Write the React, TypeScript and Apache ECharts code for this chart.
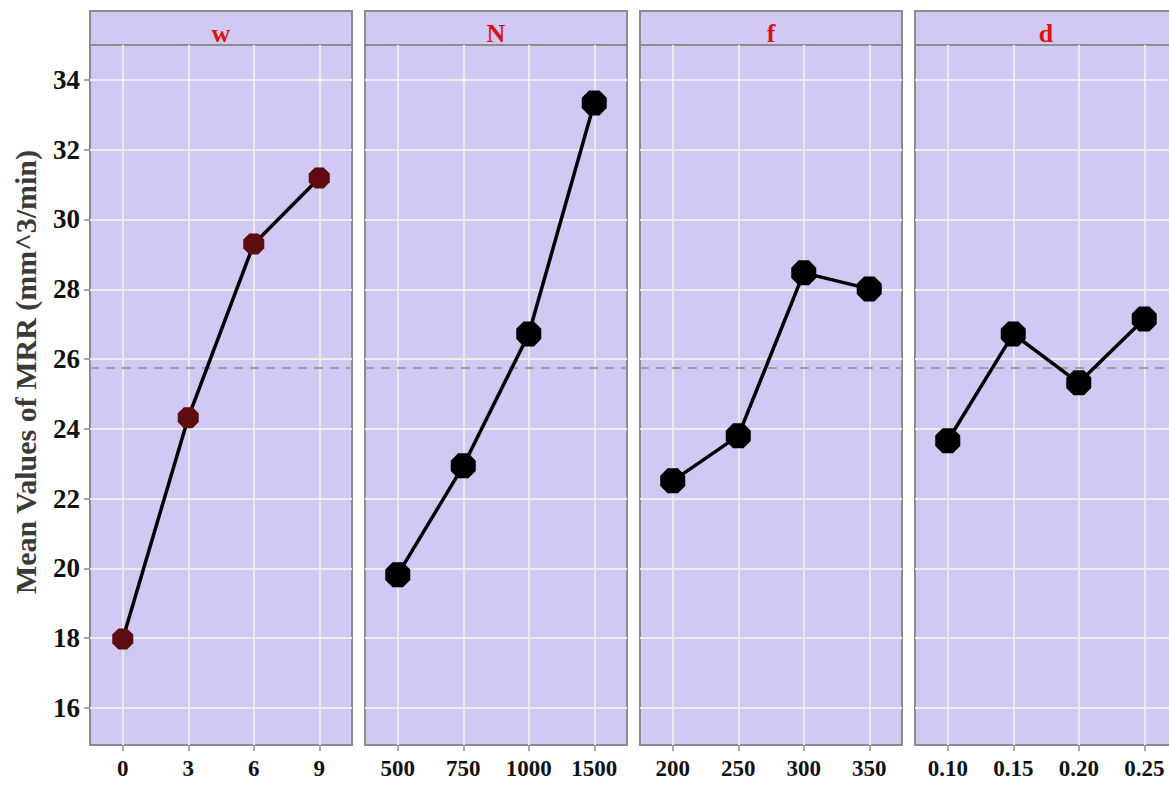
import React, { useEffect, useRef } from "react";
import * as echarts from "echarts";

const factorNames = ["w", "N", "f", "d"];
const wLevels = ["0", "3", "6", "9"];
const wMeans = [17.98, 24.32, 29.3, 31.19];
const NLevels = ["500", "750", "1000", "1500"];
const NMeans = [19.82, 22.94, 26.72, 33.34];
const fLevels = ["200", "250", "300", "350"];
const fMeans = [22.51, 23.8, 28.47, 28.01];
const dLevels = ["0.10", "0.15", "0.20", "0.25"];
const dMeans = [23.66, 26.72, 25.32, 27.15];
const grandMean = 25.75;
const yTicks = [16, 18, 20, 22, 24, 26, 28, 30, 32, 34];
const yMin = 14.94;
const yMax = 35.0;

const levelsList = [wLevels, NLevels, fLevels, dLevels];
const meansList = [wMeans, NMeans, fMeans, dMeans];

const BG = "#D1C9F4";
const BORDER = "#8c8c8c";
const FONT = "'Liberation Serif', 'Times New Roman', serif";
const OCTAGON = "path://M29.3 0H70.7L100 29.3V70.7L70.7 100H29.3L0 70.7V29.3Z";

const PANEL_LEFT = 90;
const PANEL_STEP = 275;
const PANEL_W = 262;
const PANEL_TOP = 45;
const PANEL_H = 700;
const STRIP_TOP = 11;

export default function App() {
  const ref = useRef<HTMLDivElement>(null);
  useEffect(() => {
    if (!ref.current) return;
    const chart = echarts.init(ref.current, undefined, { renderer: "svg" });
    const grids: any[] = [];
    const xAxes: any[] = [];
    const yAxes: any[] = [];
    const series: any[] = [];
    const graphics: any[] = [];

    factorNames.forEach((name, i) => {
      const left = PANEL_LEFT + PANEL_STEP * i;
      grids.push({
        show: true,
        left,
        top: PANEL_TOP,
        width: PANEL_W,
        height: PANEL_H,
        backgroundColor: BG,
        borderColor: BORDER,
        borderWidth: 2,
      });
      xAxes.push({
        type: "category",
        gridIndex: i,
        data: levelsList[i],
        boundaryGap: true,
        axisLine: { show: true, lineStyle: { color: BORDER, width: 2 } },
        axisTick: {
          show: true,
          alignWithLabel: true,
          length: 6,
          lineStyle: { color: BORDER, width: 1.5 },
        },
        axisLabel: {
          fontFamily: FONT,
          fontWeight: "bold",
          fontSize: 23,
          color: "#111",
          margin: 12,
        },
        splitLine: { show: false },
      });
      yAxes.push({
        type: "value",
        gridIndex: i,
        min: yMin,
        max: yMax,
        splitLine: { show: false },
        axisLine: { show: i === 0, lineStyle: { color: BORDER, width: 2 } },
        axisTick: {
          show: i === 0,
          length: 6,
          customValues: yTicks,
          lineStyle: { color: BORDER, width: 1.5 },
        },
        axisLabel: {
          show: i === 0,
          customValues: yTicks,
          fontFamily: FONT,
          fontWeight: "bold",
          fontSize: 27,
          color: "#111",
          margin: 10,
        },
      });
      // grid lines (behind everything)
      series.push({
        type: "line",
        xAxisIndex: i,
        yAxisIndex: i,
        data: meansList[i],
        showSymbol: false,
        silent: true,
        lineStyle: { opacity: 0 },
        z: 1,
        markLine: {
          z: 1,
          silent: true,
          symbol: "none",
          label: { show: false },
          lineStyle: { color: "#ececec", width: 1.8, type: "solid" },
          emphasis: { disabled: true },
          data: [
            ...yTicks.map((v) => ({ yAxis: v })),
            ...levelsList[i].map((l) => ({ xAxis: l })),
          ],
        },
      });
      // data
      series.push({
        type: "line",
        name,
        xAxisIndex: i,
        yAxisIndex: i,
        data: meansList[i],
        symbol: OCTAGON,
        symbolSize: i === 0 ? 21 : 25,
        showSymbol: true,
        itemStyle: { color: i === 0 ? "#5E0B12" : "#000000", borderWidth: 0 },
        lineStyle: { color: "#000000", width: 3.5 },
        z: 4,
        markLine: {
          z: 2,
          silent: true,
          symbol: "none",
          label: { show: false },
          lineStyle: { color: "#a0a0a0", width: 2.2, type: [9, 7] },
          emphasis: { disabled: true },
          data: [{ yAxis: grandMean }],
        },
      });
      graphics.push({
        type: "rect",
        shape: { x: left, y: STRIP_TOP, width: PANEL_W, height: PANEL_TOP - STRIP_TOP },
        style: { fill: BG, stroke: BORDER, lineWidth: 2 },
        silent: true,
      });
      graphics.push({
        type: "text",
        x: left + PANEL_W / 2,
        y: 33,
        style: {
          text: name,
          fill: "#DD1111",
          font: `bold 26px ${FONT}`,
          align: "center",
          verticalAlign: "middle",
        },
        silent: true,
      });
    });

    graphics.push({
      type: "text",
      x: 25,
      y: 372,
      rotation: Math.PI / 2,
      style: {
        text: "Mean Values of MRR (mm^3/min)",
        fill: "#3a3a3a",
        font: `bold 30px ${FONT}`,
        align: "center",
        verticalAlign: "middle",
      },
      silent: true,
    });

    chart.setOption({
      animation: false,
      backgroundColor: "#ffffff",
      grid: grids,
      xAxis: xAxes,
      yAxis: yAxes,
      series,
      graphic: graphics,
    });
    return () => chart.dispose();
  }, []);
  return (
    <div
      style={{
        position: "fixed",
        left: 0,
        top: 0,
        width: 1169,
        height: 788,
        overflow: "hidden",
        background: "#ffffff",
      }}
    >
      <div ref={ref} style={{ width: 1200, height: 788 }} />
    </div>
  );
}
